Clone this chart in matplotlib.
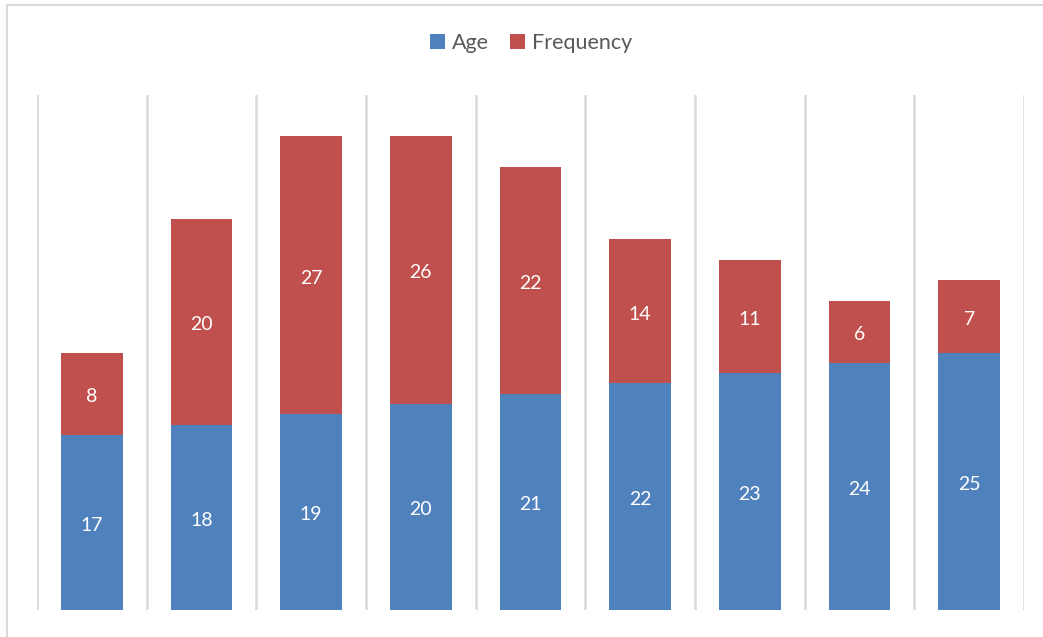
import matplotlib.pyplot as plt
import numpy as np
from matplotlib.patches import Rectangle

ages = [17, 18, 19, 20, 21, 22, 23, 24, 25]
frequency = [8, 20, 27, 26, 22, 14, 11, 6, 7]

blue = '#4F81BD'
red = '#C0504D'

plt.rcParams['font.family'] = ['Lato', 'DejaVu Sans']

fig = plt.figure(figsize=(10.43, 6.37), dpi=100)
W, H = 1043, 637
ax = fig.add_axes([37 / W, 1 - 610 / H, (1024 - 37) / W, (610 - 95) / H])

x = np.arange(len(ages))
width = 0.56
b1 = ax.bar(x, ages, width, color=blue, label='Age', zorder=3)
b2 = ax.bar(x, frequency, width, bottom=ages, color=red, label='Frequency', zorder=3)

ax.bar_label(b1, labels=[str(a) for a in ages], label_type='center', color='white',
             fontsize=14, padding=-2)
ax.bar_label(b2, labels=[str(f) for f in frequency], label_type='center', color='white',
             fontsize=14, padding=-2)

ax.set_xlim(-0.5, len(ages) - 0.5)
ax.set_ylim(0, 50)
for b in np.arange(-0.5, len(ages), 1.0):
    ax.axvline(b, color='#D9D9D9', linewidth=1.8, zorder=1)

ax.set_xticks([])
ax.set_yticks([])
for s in ax.spines.values():
    s.set_visible(False)

fig.legend(loc='center', bbox_to_anchor=(531 / W, 1 - 43 / H), ncol=2, frameon=False,
           fontsize=15.5, labelcolor='#595959', handlelength=0.7, handleheight=0.7,
           handletextpad=0.3, columnspacing=1.0)

# chart area border (only top and left are visible in the frame)
fig.patches.append(Rectangle((7 / W, -0.1), 1.2, 1 - 5 / H + 0.1, transform=fig.transFigure,
                             fill=False, edgecolor='#D9D9D9', linewidth=1.5))

fig.savefig('out.png', dpi=100)
